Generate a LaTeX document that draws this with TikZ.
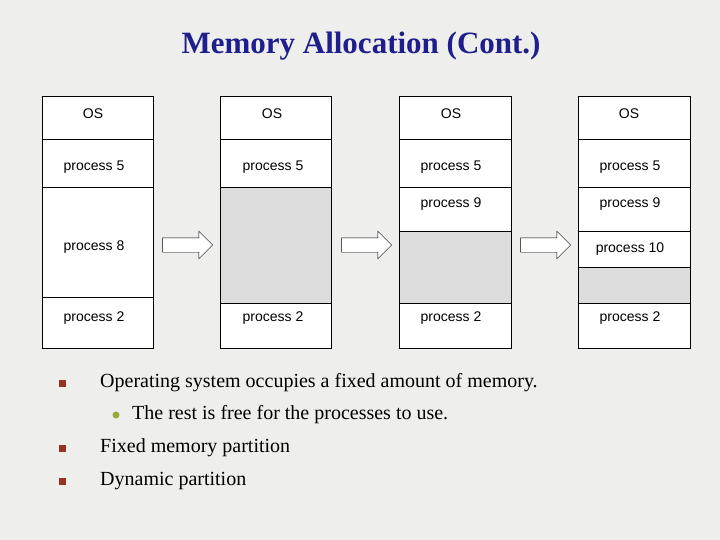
\documentclass[tikz,border=0pt]{standalone}
\usepackage{fontspec}
\setmainfont{Liberation Serif}
\newfontfamily\boxfont{Liberation Sans}
\usetikzlibrary{shapes.arrows, positioning}
\definecolor{titleblue}{RGB}{30,30,140}
\definecolor{bulletred}{RGB}{150,50,30}
\definecolor{bulletgreen}{RGB}{150,170,60}
\definecolor{holegray}{RGB}{220,220,220}
\definecolor{slidebg}{RGB}{238,238,236}
\tikzset{
    seg/.style={draw=black, fill=white, line width=0.5pt},
    hole/.style={draw=black, fill=holegray, line width=0.5pt},
    lbl/.style={font=\boxfont\fontsize{14}{16}\selectfont},
    move/.style={single arrow, draw=black, fill=white, minimum height=50pt, single arrow head extend=6.5pt, inner sep=7pt},
    item/.style={anchor=west, font=\fontsize{20}{23}\selectfont, inner sep=0pt}
}
\begin{document}
\begin{tikzpicture}[x=1pt, y=-1pt]
    \fill[slidebg] (0,0) rectangle (720,540);
    \node[font=\bfseries\fontsize{31}{35}\selectfont, text=titleblue] (title) at (361,46) {Memory Allocation (Cont.)};
    % column 1
    \draw[seg] (42,96) rectangle (153,139);
    \draw[seg] (42,139) rectangle (153,187);
    \draw[seg] (42,187) rectangle (153,297);
    \draw[seg] (42,297) rectangle (153,348);
    \node[lbl] (os1) at (93,114) {OS};
    \node[lbl] (p5a) at (94,167) {process 5};
    \node[lbl] (p8) at (94,247) {process 8};
    \node[lbl] (p2a) at (94,318) {process 2};
    % column 2
    \draw[seg] (220,96) rectangle (331,139);
    \draw[seg] (220,139) rectangle (331,187);
    \draw[hole] (220,187) rectangle (331,303);
    \draw[seg] (220,303) rectangle (331,348);
    \node[lbl] (os2) at (272,114) {OS};
    \node[lbl] (p5b) at (273,167) {process 5};
    \node[lbl] (p2b) at (273,318) {process 2};
    % column 3
    \draw[seg] (399,96) rectangle (511,139);
    \draw[seg] (399,139) rectangle (511,187);
    \draw[seg] (399,187) rectangle (511,231);
    \draw[hole] (399,231) rectangle (511,303);
    \draw[seg] (399,303) rectangle (511,348);
    \node[lbl] (os3) at (451,114) {OS};
    \node[lbl] (p5c) at (451,167) {process 5};
    \node[lbl] (p9c) at (451,204) {process 9};
    \node[lbl] (p2c) at (451,318) {process 2};
    % column 4
    \draw[seg] (578,96) rectangle (690,139);
    \draw[seg] (578,139) rectangle (690,187);
    \draw[seg] (578,187) rectangle (690,231);
    \draw[seg] (578,231) rectangle (690,267);
    \draw[hole] (578,267) rectangle (690,303);
    \draw[seg] (578,303) rectangle (690,348);
    \node[lbl] (os4) at (629,114) {OS};
    \node[lbl] (p5d) at (630,167) {process 5};
    \node[lbl] (p9d) at (630,204) {process 9};
    \node[lbl] (p10) at (630,249) {process 10};
    \node[lbl] (p2d) at (630,318) {process 2};
    % arrows
    \node[move] (m1) at (184,245) {};
    \node[move] (m2) at (363,245) {};
    \node[move] (m3) at (542,245) {};
    % bullets
    \node[fill=bulletred, minimum size=7pt, inner sep=0pt] (b1) at (62,383) {};
    \node[item] (t1) at (100,383) {Operating system occupies a fixed amount of memory.};
    \node[circle, fill=bulletgreen, minimum size=7pt, inner sep=0pt] (b2) at (116,415) {};
    \node[item] (t2) at (132,415) {The rest is free for the processes to use.};
    \node[fill=bulletred, minimum size=7pt, inner sep=0pt] (b3) at (62,448) {};
    \node[item] (t3) at (100,448) {Fixed memory partition};
    \node[fill=bulletred, minimum size=7pt, inner sep=0pt] (b4) at (62,481) {};
    \node[item] (t4) at (100,481) {Dynamic partition};
\end{tikzpicture}
\end{document}
